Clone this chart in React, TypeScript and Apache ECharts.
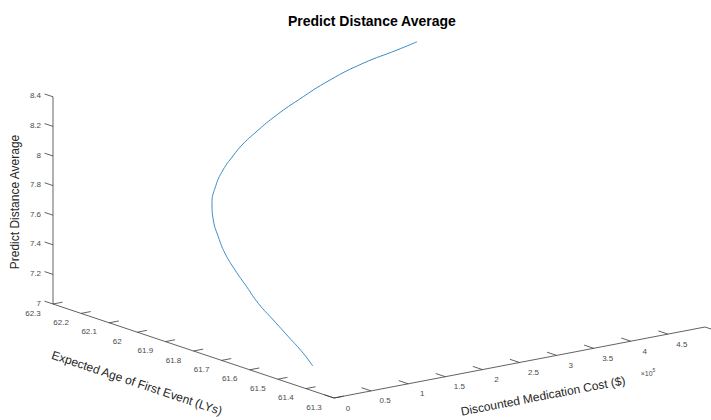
import React, { useEffect, useRef } from 'react';
import * as echarts from 'echarts';

// ---- data ----
const costValues = [3480, 5960, 8470, 10980, 13480, 16790, 19950, 23520, 29640, 36150, 47650, 63730, 85200, 108150, 127850, 156190, 189910, 234020, 290000, 353400, 416270, 458380];
const ageValues = [61.385, 61.425, 61.485, 61.545, 61.605, 61.655, 61.705, 61.75, 61.79, 61.825, 61.86, 61.89, 61.92, 61.945, 61.965, 61.99, 62.015, 62.045, 62.08, 62.13, 62.175, 62.215];
const distValues = [7.159, 7.217, 7.289, 7.361, 7.433, 7.51, 7.589, 7.669, 7.75, 7.835, 7.914, 7.992, 8.065, 8.122, 8.164, 8.209, 8.262, 8.316, 8.375, 8.395, 8.396, 8.386];

const costTicks = [0, 50000, 100000, 150000, 200000, 250000, 300000, 350000, 400000, 450000, 500000];
const costTickLabels = ['0', '0.5', '1', '1.5', '2', '2.5', '3', '3.5', '4', '4.5', ''];
const ageTicks = [61.3, 61.4, 61.5, 61.6, 61.7, 61.8, 61.9, 62, 62.1, 62.2, 62.3];
const ageTickLabels = ['61.3', '61.4', '61.5', '61.6', '61.7', '61.8', '61.9', '62', '62.1', '62.2', '62.3'];
const distTicks = [7, 7.2, 7.4, 7.6, 7.8, 8, 8.2, 8.4];
const distTickLabels = ['7', '7.2', '7.4', '7.6', '7.8', '8', '8.2', '8.4'];

const costRange = [0, 500000];
const ageRange = [61.3, 62.3];
const distRange = [7, 8.4];

const titleText = 'Predict Distance Average';
const costLabel = 'Discounted Medication Cost ($)';
const ageLabel = 'Expected Age of First Event (LYs)';
const distLabel = 'Predict Distance Average';

// ---- layout / style ----
const W = 711;
const H = 420;
const FONT = '"Liberation Sans", Arial, Helvetica, sans-serif';
const AXIS_COLOR = '#3a3a3a';
const TICK_TEXT = '#4a4a4a';
const LABEL_COLOR = '#262626';
const LINE_COLOR = '#3a8cc6';

// orthographic 3D frame (screen vector per data unit)
const FRAME = {
  ox: 334,
  oy: 398,
  cost: [74.2 / 100000, -14.2 / 100000],
  age: [-281, -94],
  dist: [0, -148],
};

function project(c: number, a: number, z: number): number[] {
  const dc = c - costRange[0];
  const da = a - ageRange[0];
  const dz = z - distRange[0];
  return [
    FRAME.ox + dc * FRAME.cost[0] + da * FRAME.age[0] + dz * FRAME.dist[0],
    FRAME.oy + dc * FRAME.cost[1] + da * FRAME.age[1] + dz * FRAME.dist[1],
  ];
}

type P3 = [number, number, number];

function tickSeries(
  name: string,
  ticks: number[],
  labels: string[],
  from: (t: number) => P3,
  to: (t: number, i: number) => P3,
  offset: number[],
  align: string
) {
  return {
    type: 'custom',
    name,
    coordinateSystem: 'cartesian2d',
    silent: true,
    clip: false,
    data: ticks.map((t) => project(...from(t))),
    renderItem: (params: any, api: any) => {
      const i = params.dataIndex;
      const t = ticks[i];
      const p0 = api.coord(project(...from(t)));
      const p1 = api.coord(project(...to(t, i)));
      return {
        type: 'group',
        children: [
          {
            type: 'line',
            shape: { x1: p0[0], y1: p0[1], x2: p1[0], y2: p1[1] },
            style: { stroke: AXIS_COLOR, lineWidth: 0.8 },
          },
          {
            type: 'text',
            x: p0[0] + offset[0],
            y: p0[1] + offset[1],
            style: {
              text: labels[i],
              fill: TICK_TEXT,
              fontSize: 8,
              fontFamily: FONT,
              align,
              verticalAlign: 'middle',
            },
          },
        ],
      };
    },
  };
}

function axisLine(name: string, a: P3, b: P3) {
  return {
    type: 'line',
    name,
    silent: true,
    symbol: 'none',
    animation: false,
    lineStyle: { color: AXIS_COLOR, width: 0.8 },
    data: [project(...a), project(...b)],
  };
}

export default function App() {
  const ref = useRef<HTMLDivElement>(null);

  useEffect(() => {
    document.body.style.margin = '0';
    if (!ref.current) return;
    const chart = echarts.init(ref.current, undefined, { renderer: 'svg' });

    const curve = costValues.map((c, i) => project(c, ageValues[i], distValues[i]));

    const option: any = {
      animation: false,
      backgroundColor: '#ffffff',
      title: {
        text: titleText,
        left: 288,
        top: 14,
        padding: 0,
        textStyle: { fontSize: 14, fontWeight: 'bold', color: '#000000', fontFamily: FONT },
      },
      grid: { left: 0, right: 0, top: 0, bottom: 0 },
      xAxis: { type: 'value', min: 0, max: W, show: false },
      yAxis: { type: 'value', min: 0, max: H, inverse: true, show: false },
      series: [
        axisLine('distAxis', [costRange[0], ageRange[1], distRange[0]], [costRange[0], ageRange[1], distRange[1]]),
        axisLine('ageAxis', [costRange[0], ageRange[0], distRange[0]], [costRange[0], ageRange[1], distRange[0]]),
        axisLine('costAxis', [costRange[0], ageRange[0], distRange[0]], [costRange[1], ageRange[0], distRange[0]]),
        tickSeries(
          'distTicks',
          distTicks,
          distTickLabels,
          (t) => [costRange[0], ageRange[1], t],
          (t) => [costRange[0], ageRange[1] + 0.03, t],
          [-12, -1],
          'right'
        ),
        tickSeries(
          'ageTicks',
          ageTicks,
          ageTickLabels,
          (t) => [costRange[0], t, distRange[0]],
          (t) => [costRange[0] + 13000, t, distRange[0]],
          [-20, 9],
          'center'
        ),
        tickSeries(
          'costTicks',
          costTicks,
          costTickLabels,
          (t) => [t, ageRange[0], distRange[0]],
          (t, i) => [t, ageRange[0] + (i === costTicks.length - 1 ? -0.03 : 0.034), distRange[0]],
          [14, 10],
          'center'
        ),
        {
          type: 'line',
          name: 'curve',
          data: curve,
          symbol: 'none',
          smooth: 0.5,
          lineStyle: { color: LINE_COLOR, width: 1 },
        },
      ],
      graphic: [
        {
          type: 'text',
          x: 15,
          y: 202,
          rotation: Math.PI / 2,
          style: { text: distLabel, fontSize: 12, fontFamily: FONT, fill: LABEL_COLOR, align: 'center', verticalAlign: 'middle' },
        },
        {
          type: 'text',
          x: 137,
          y: 383,
          rotation: -Math.atan2(94, 281),
          style: { text: ageLabel, fontSize: 12, fontFamily: FONT, fill: LABEL_COLOR, align: 'center', verticalAlign: 'middle' },
        },
        {
          type: 'text',
          x: 543,
          y: 396,
          rotation: Math.atan2(14.2, 74.2),
          style: { text: costLabel, fontSize: 12, fontFamily: FONT, fill: LABEL_COLOR, align: 'center', verticalAlign: 'middle' },
        },
        {
          type: 'text',
          x: 648,
          y: 372,
          style: {
            text: '{a|×10}{b|5}',
            align: 'center',
            verticalAlign: 'middle',
            rich: {
              a: { fontSize: 7, fontFamily: FONT, fill: TICK_TEXT, color: TICK_TEXT, verticalAlign: 'bottom', lineHeight: 10 },
              b: { fontSize: 5, fontFamily: FONT, fill: TICK_TEXT, color: TICK_TEXT, verticalAlign: 'top', lineHeight: 10 },
            },
          },
        },
      ],
    };

    chart.setOption(option);
    return () => chart.dispose();
  }, []);

  return <div ref={ref} style={{ width: W, height: H }} />;
}
